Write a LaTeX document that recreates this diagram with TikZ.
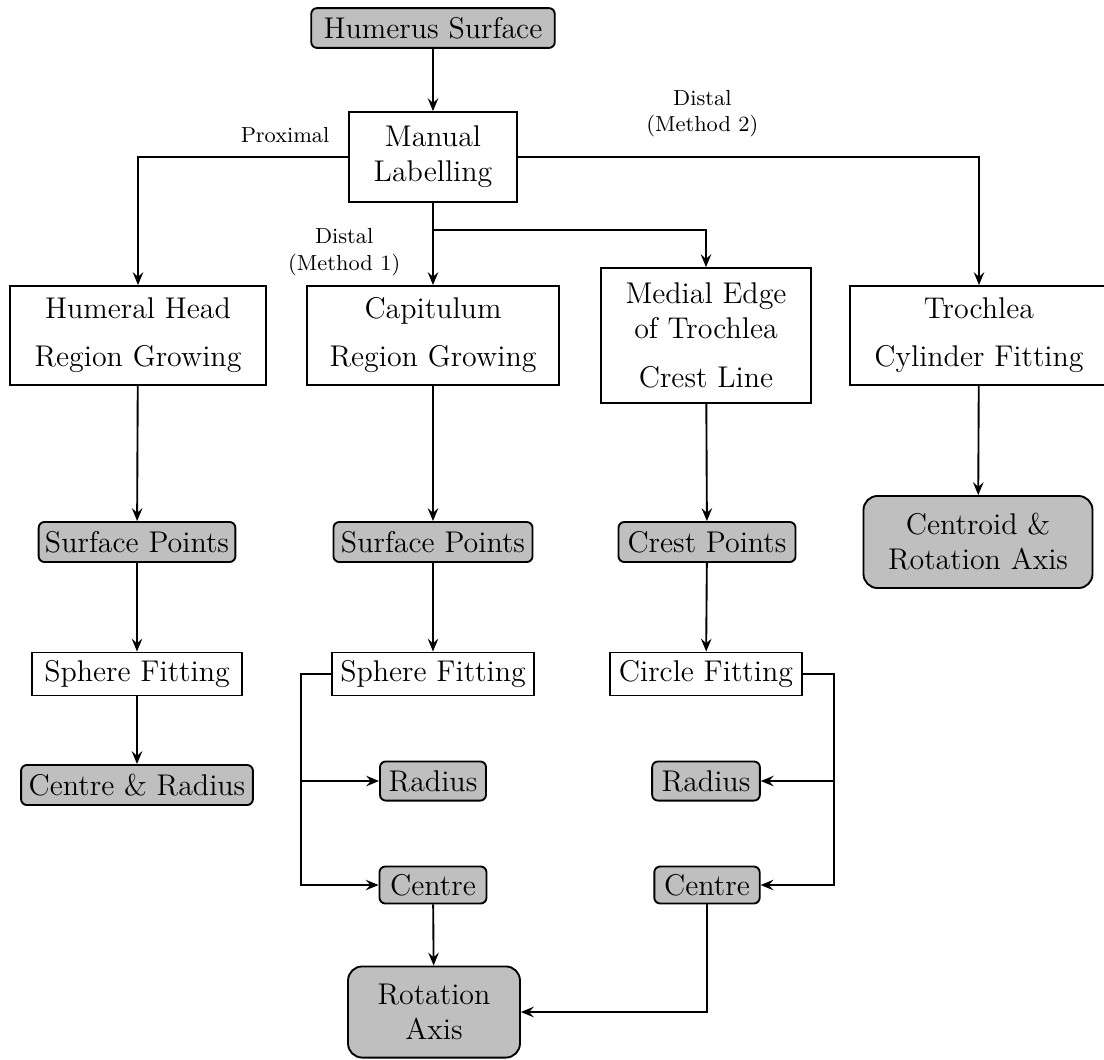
\documentclass[tikz,border=0pt]{standalone}
\usetikzlibrary{arrows.meta,calc}
\begin{document}
\begin{tikzpicture}[x=0.427pt,y=-0.427pt,
  font=\fontsize{12.8}{15}\selectfont,
  box/.style={draw,line width=0.8pt,align=center,inner sep=0pt,fill=white},
  grey/.style={box,fill=black!25,rounded corners=2.5pt},
  greybig/.style={box,fill=black!25,rounded corners=6pt},
  arr/.style={line width=0.8pt,-{Stealth[length=5.5pt,width=4.5pt,inset=2pt]}},
  lbl/.style={font=\fontsize{9.3}{11.2}\selectfont,align=center,inner sep=1pt}]
\useasboundingbox (0,0) rectangle (1104,1059);
% nodes
\node[grey, minimum width=104pt, minimum height=17pt] (hs) at (433,28) {Humerus Surface};
\node[box, minimum width=71.7pt, minimum height=38.4pt] (ml) at (433,157) {Manual\\Labelling};
\node[box, minimum width=109.5pt, minimum height=42.3pt] (hh) at (138,335.5) {Humeral Head\\[5.5pt]Region Growing};
\node[box, minimum width=107.5pt, minimum height=42.3pt] (cap) at (433,335.5) {Capitulum\\[5.5pt]Region Growing};
\node[box, minimum width=89.7pt, minimum height=57.6pt] (me) at (706,335.5) {Medial Edge\\of Trochlea\\[6pt]Crest Line};
\node[box, minimum width=110pt, minimum height=42.3pt] (tr) at (979,335.5) {Trochlea\\[5.5pt]Cylinder Fitting};
\node[grey, minimum width=84pt, minimum height=17.1pt] (sp1) at (137,542) {Surface Points};
\node[grey, minimum width=85pt, minimum height=17.1pt] (sp2) at (433,542) {Surface Points};
\node[grey, minimum width=75.6pt, minimum height=17.1pt] (cp) at (707,542) {Crest Points};
\node[greybig, minimum width=97.8pt, minimum height=39.3pt] (cra) at (978,542) {Centroid \&\\Rotation Axis};
\node[box, minimum width=90pt, minimum height=18.4pt] (sf1) at (137,674) {Sphere Fitting};
\node[box, minimum width=86pt, minimum height=18.4pt] (sf2) at (433,674) {Sphere Fitting};
\node[box, minimum width=82pt, minimum height=18.4pt] (cf) at (706,674) {Circle Fitting};
\node[grey, minimum width=99pt, minimum height=17.1pt] (cr) at (137,785) {Centre \& Radius};
\node[grey, minimum width=45.3pt, minimum height=16.7pt] (r2) at (433,781) {Radius};
\node[grey, minimum width=46pt, minimum height=16.7pt] (r3) at (706,781) {Radius};
\node[grey, minimum width=45.7pt, minimum height=15.8pt] (c2) at (433,885) {Centre};
\node[grey, minimum width=45pt, minimum height=15.8pt] (c3) at (707,885) {Centre};
\node[greybig, minimum width=73.4pt, minimum height=38.9pt] (ra) at (434,1012) {Rotation\\Axis};
\coordinate (br) at (433,230);
% connectors
\draw[arr] (hs) -- (ml);
\draw[arr] (ml.west) -| node[lbl,pos=0.15,above=4.5pt]{Proximal} (hh.north);
\draw[arr] (ml.east) -| node[lbl,pos=0.2,above=7pt]{Distal\\(Method 2)} (tr.north);
\draw[arr] (ml.south) -- node[lbl,pos=0.6,left=12.6pt]{Distal\\(Method 1)} (cap.north);
\draw[arr] (br) -| (me.north);
\draw[arr] (hh) -- (sp1);
\draw[arr] (sp1) -- (sf1);
\draw[arr] (sf1) -- (cr);
\draw[arr] (cap) -- (sp2);
\draw[arr] (sp2) -- (sf2);
\draw[arr] (me) -- (cp);
\draw[arr] (cp) -- (cf);
\draw[arr] (tr) -- (cra);
\draw[arr] (sf2.west) -- ++(-30,0) |- (r2.west);
\draw[arr] (sf2.west) -- ++(-30,0) |- (c2.west);
\draw[arr] (cf.east) -- ++(31,0) |- (r3.east);
\draw[arr] (cf.east) -- ++(31,0) |- (c3.east);
\draw[arr] (c2) -- (ra);
\draw[arr] (c3.south) |- (ra.east);
\end{tikzpicture}
\end{document}
